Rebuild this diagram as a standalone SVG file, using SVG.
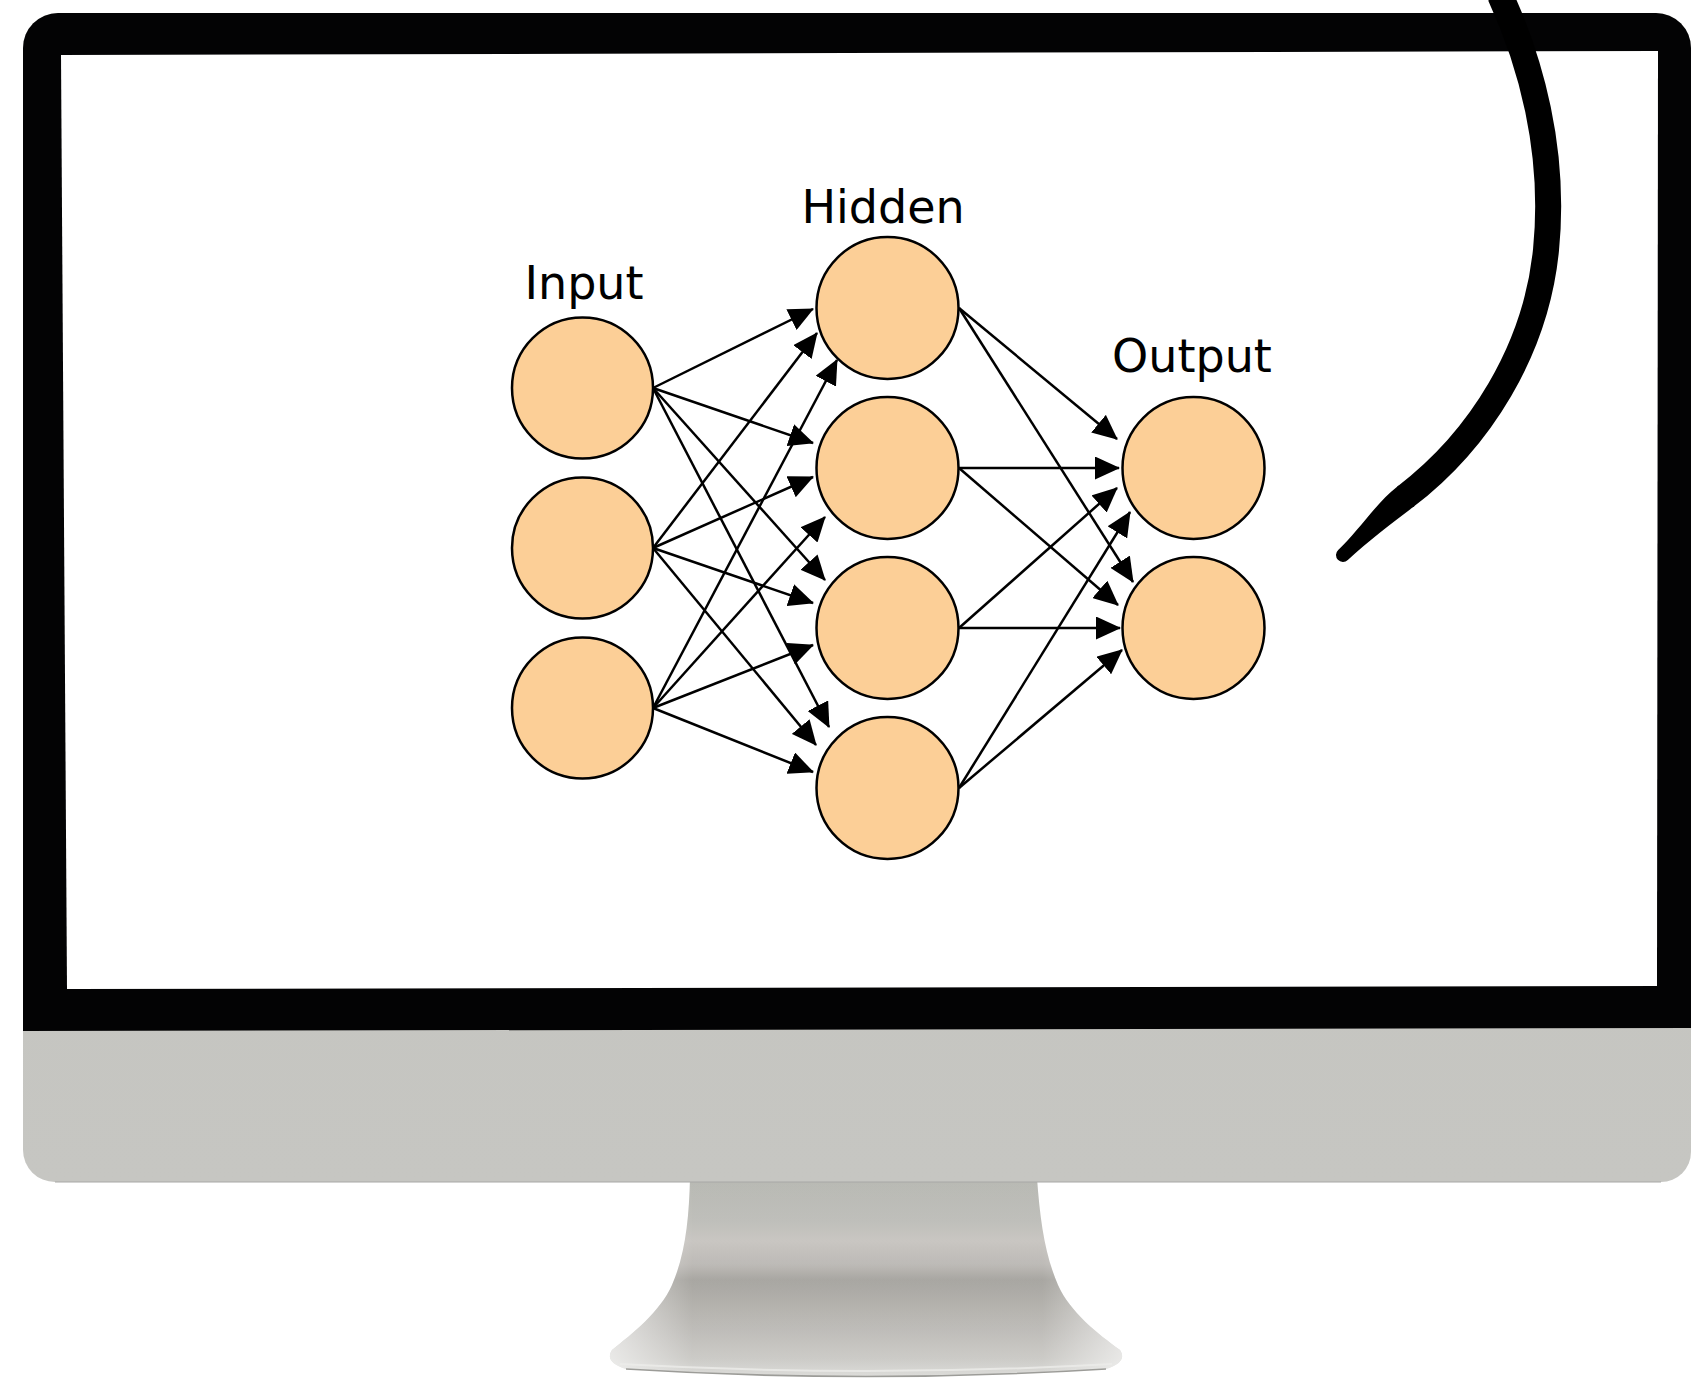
<svg xmlns="http://www.w3.org/2000/svg" width="1691" height="1381" viewBox="0 0 1691 1381">
  <defs>
    <style>
      .node { fill: #fccf97; stroke: #000; stroke-width: 2.5; }
      .label { font-family: "DejaVu Sans", "Liberation Sans", sans-serif; font-size: 46px; fill: #000; text-anchor: middle; }
      .edge { stroke: #000; stroke-width: 2.5; fill: none; marker-end: url(#ah); }
    </style>
    <marker id="ah" markerUnits="userSpaceOnUse" markerWidth="25" markerHeight="23" viewBox="0 0 25 23" refX="24" refY="11.5" orient="auto">
      <path d="M0,0 L25,11.5 L0,23 Z" fill="#000"/>
    </marker>
    <linearGradient id="chin" x1="0" y1="0" x2="0" y2="1">
      <stop offset="0" stop-color="#c9c9c5"/>
      <stop offset="0.6" stop-color="#c4c4bf"/>
      <stop offset="1" stop-color="#c6c6c2"/>
    </linearGradient>
    <linearGradient id="standV" x1="0" y1="1182" x2="0" y2="1378" gradientUnits="userSpaceOnUse">
      <stop offset="0" stop-color="#b5b6b0"/>
      <stop offset="0.2" stop-color="#bcbcb7"/>
      <stop offset="0.3" stop-color="#c6c3bf"/>
      <stop offset="0.42" stop-color="#bab7b3"/>
      <stop offset="0.5" stop-color="#a4a29d"/>
      <stop offset="0.6" stop-color="#adaba6"/>
      <stop offset="0.76" stop-color="#bcbab6"/>
      <stop offset="0.9" stop-color="#c9c8c4"/>
      <stop offset="1" stop-color="#dcdcd9"/>
    </linearGradient>
    <linearGradient id="standH" x1="610" y1="0" x2="1125" y2="0" gradientUnits="userSpaceOnUse">
      <stop offset="0" stop-color="#ffffff" stop-opacity="0.6"/>
      <stop offset="0.16" stop-color="#ffffff" stop-opacity="0.05"/>
      <stop offset="0.84" stop-color="#ffffff" stop-opacity="0.05"/>
      <stop offset="1" stop-color="#ffffff" stop-opacity="0.6"/>
    </linearGradient>
  </defs>

  <rect width="1691" height="1381" fill="#fff"/>

  <!-- stand -->
  <g id="stand">
    <path d="M690,1178 C689,1220 685,1255 672,1285 C660,1312 632,1334 612,1350 Q604,1362 626,1369 Q866,1384 1106,1369 Q1128,1362 1120,1350 C1098,1334 1070,1312 1058,1285 C1045,1255 1040,1220 1037,1178 Z" fill="url(#standV)"/>
    <path d="M690,1178 C689,1220 685,1255 672,1285 C660,1312 632,1334 612,1350 Q604,1362 626,1369 Q866,1384 1106,1369 Q1128,1362 1120,1350 C1098,1334 1070,1312 1058,1285 C1045,1255 1040,1220 1037,1178 Z" fill="url(#standH)"/>
    <path d="M626,1369 Q866,1384 1106,1369" fill="none" stroke="#9c9c98" stroke-width="1.6"/>
    <path d="M620,1364 Q866,1378 1112,1364" fill="none" stroke="#ececea" stroke-width="2" stroke-opacity="0.8"/>
  </g>

  <!-- monitor body: bezel and chin -->
  <g id="monitor">
    <path d="M58,13 H1656 A35,35 0 0 1 1691,48 V1152 A30,30 0 0 1 1661,1182 H55 A32,32 0 0 1 23,1150 V48 A35,35 0 0 1 58,13 Z" fill="url(#chin)"/>
    <path d="M58,13 H1656 A35,35 0 0 1 1691,48 V1028 L23,1031 V48 A35,35 0 0 1 58,13 Z" fill="#030304"/>
    <path d="M55,1182 H1661" stroke="#a8a8a6" stroke-width="1.2"/>
    <polygon id="screen" points="61,55 1658,51 1657,986 67,989" fill="#fff"/>
  </g>

  <!-- connectors -->
  <g id="connectors">
    <line class="edge" x1="653" y1="388" x2="813" y2="309"/>
    <line class="edge" x1="653" y1="548" x2="817" y2="333"/>
    <line class="edge" x1="653" y1="708" x2="837" y2="360"/>
    <line class="edge" x1="653" y1="388" x2="813" y2="443"/>
    <line class="edge" x1="653" y1="548" x2="813" y2="477"/>
    <line class="edge" x1="653" y1="708" x2="825" y2="517"/>
    <line class="edge" x1="653" y1="388" x2="825" y2="580"/>
    <line class="edge" x1="653" y1="548" x2="813" y2="603"/>
    <line class="edge" x1="653" y1="708" x2="813" y2="645"/>
    <line class="edge" x1="653" y1="388" x2="829" y2="727"/>
    <line class="edge" x1="653" y1="548" x2="816" y2="745"/>
    <line class="edge" x1="653" y1="708" x2="813" y2="772"/>

    <line class="edge" x1="959" y1="308" x2="1117" y2="439"/>
    <line class="edge" x1="959" y1="468" x2="1119" y2="468"/>
    <line class="edge" x1="959" y1="628" x2="1117" y2="488"/>
    <line class="edge" x1="959" y1="788" x2="1130" y2="512"/>
    <line class="edge" x1="959" y1="308" x2="1133" y2="582"/>
    <line class="edge" x1="959" y1="468" x2="1118" y2="605"/>
    <line class="edge" x1="959" y1="628" x2="1120" y2="628"/>
    <line class="edge" x1="959" y1="788" x2="1122" y2="650"/>
  </g>

  <!-- layer labels -->
  <text class="label" x="584" y="299">Input</text>
  <text class="label" x="883" y="223">Hidden</text>
  <text class="label" x="1192" y="372">Output</text>

  <!-- input layer -->
  <g id="in1"><circle class="node" cx="582.5" cy="388" r="70.5"/></g>
  <g id="in2"><circle class="node" cx="582.5" cy="548" r="70.5"/></g>
  <g id="in3"><circle class="node" cx="582.5" cy="708" r="70.5"/></g>

  <!-- hidden layer -->
  <g id="hid1"><circle class="node" cx="887.5" cy="308" r="71"/></g>
  <g id="hid2"><circle class="node" cx="887.5" cy="468" r="71"/></g>
  <g id="hid3"><circle class="node" cx="887.5" cy="628" r="71"/></g>
  <g id="hid4"><circle class="node" cx="887.5" cy="788" r="71"/></g>

  <!-- output layer -->
  <g id="out1"><circle class="node" cx="1193.5" cy="468" r="71"/></g>
  <g id="out2"><circle class="node" cx="1193.5" cy="628" r="71"/></g>

  <!-- hand-drawn brush stroke: smooth body, then a tapered rounded tip -->
  <g id="brush">
    <path fill="none" stroke="#000" stroke-width="26" stroke-linecap="butt" d="M1500,-5 C1530,60 1556,150 1546,250 C1536,350 1480,440 1405,497"/>
    <path fill="#000" d="M1414.5,506.1 L1412.9,507.3 C1393,522.4 1368.5,540.8 1347.8,560.1 A7,7 0 0 1 1338.2,549.9 C1358.9,530.6 1377.2,501.8 1397.1,486.7 L1398.7,485.5 Z"/>
  </g>
</svg>
